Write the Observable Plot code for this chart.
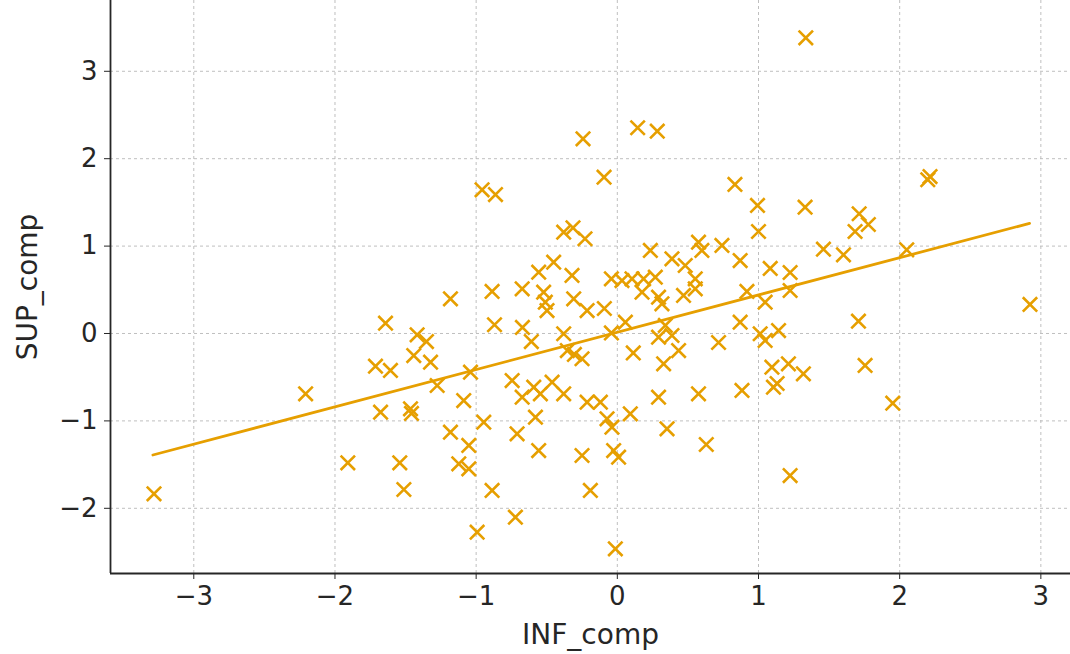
<!DOCTYPE html>
<html>
<head>
<meta charset="utf-8">
<script src="https://cdn.jsdelivr.net/npm/d3@7"></script>
<script src="https://cdn.jsdelivr.net/npm/@observablehq/plot@0.6"></script>
<style>
  html, body { margin: 0; padding: 0; background: #ffffff; }
  #chart { width: 1070px; height: 654px; overflow: hidden; }
</style>
</head>
<body>
<div id="chart"></div>
<script>
// Data
const infComp = [
  1.335, -0.243, 0.144, 0.283, -0.094, -0.958, -0.863, 0.833, 2.199, 2.215,
  0.993, 1.330, 1.713, 1.778, 1.684, 1.000, -0.380, -0.314, -0.229, 0.234,
  0.387, 0.481, 0.575, 0.599, 0.741, 0.870, 1.083, 1.224, 1.460, 1.602,
  2.050, -0.451, -0.557, -0.321, -0.042, 0.033, 0.104, 0.186, 0.269, 0.552,
  0.175, 0.292, 0.316, 0.469, 0.552, 0.918, 1.224, 1.047, 2.923, -1.182,
  -0.887, -0.674, -0.522, -0.510, -0.498, -0.309, -0.214, -0.092, -1.642, -0.870,
  -0.672, -0.609, -0.380, -0.354, -0.304, -0.250, -0.042, 0.057, 0.340, 0.292,
  0.387, 0.113, 0.328, 0.434, 0.717, 0.870, 1.012, 1.142, 1.047, 1.095,
  1.212, 1.318, 1.106, 1.132, 1.708, 1.755, 1.951, -1.418, -1.352, -1.442,
  -1.323, -1.713, -1.607, -2.208, -1.677, -1.465, -1.458, -1.276, -1.040, -1.088,
  -1.182, -0.946, -1.052, -1.123, -1.052, -0.745, -0.674, -0.592, -0.545, -0.462,
  -0.380, -0.580, -0.710, -0.557, -0.214, -0.120, -0.073, -0.038, 0.092, 0.292,
  0.575, 0.883, 0.352, 0.630, -0.250, -0.026, 0.009, -0.887, -0.191, -0.722,
  -0.993, -0.014, -1.909, -1.541, -1.512, -3.282, 1.224
];
const supComp = [
  3.383, 2.228, 2.354, 2.315, 1.788, 1.644, 1.590, 1.705, 1.759, 1.796,
  1.465, 1.445, 1.370, 1.247, 1.167, 1.167, 1.159, 1.209, 1.084, 0.950,
  0.855, 0.778, 1.045, 0.950, 1.007, 0.835, 0.744, 0.698, 0.965, 0.900,
  0.958, 0.816, 0.701, 0.664, 0.626, 0.606, 0.626, 0.626, 0.644, 0.626,
  0.473, 0.415, 0.340, 0.435, 0.511, 0.481, 0.492, 0.358, 0.332, 0.397,
  0.481, 0.511, 0.473, 0.358, 0.263, 0.397, 0.263, 0.286, 0.118, 0.100,
  0.069, -0.092, -0.003, -0.195, -0.240, -0.289, 0.006, 0.129, 0.092, -0.042,
  -0.023, -0.223, -0.347, -0.195, -0.103, 0.129, -0.003, 0.034, -0.080, -0.386,
  -0.347, -0.461, -0.614, -0.572, 0.141, -0.366, -0.797, -0.015, -0.092, -0.252,
  -0.328, -0.374, -0.423, -0.690, -0.900, -0.862, -0.915, -0.595, -0.443, -0.767,
  -1.129, -1.015, -1.281, -1.491, -1.548, -0.538, -0.729, -0.614, -0.690, -0.557,
  -0.690, -0.958, -1.148, -1.339, -0.786, -0.786, -0.976, -1.072, -0.919, -0.729,
  -0.690, -0.652, -1.090, -1.270, -1.396, -1.339, -1.415, -1.796, -1.796, -2.102,
  -2.273, -2.463, -1.479, -1.479, -1.785, -1.834, -1.625
];
// Fitted regression line end points
const fitX = [-3.29, 2.92];
const fitY = [-1.39, 1.26];

const xTicks = [-3, -2, -1, 0, 1, 2, 3];
const yTicks = [-2, -1, 0, 1, 2, 3];
const xLabel = "INF_comp";
const yLabel = "SUP_comp";

const orange = "#E69F00";
const ink = "#262626";
const xDomain = [-3.59, 3.21];
const yDomain = [-2.746, 3.81];

const points = infComp.map((x, i) => ({x, y: supComp[i]}));
const fit = fitX.map((x, i) => ({x, y: fitY[i]}));
const fmt = d => d < 0 ? "\u2212" + Math.abs(d) : String(d);

const chart = Plot.plot({
  width: 1070,
  height: 654,
  marginLeft: 110,
  marginRight: 0,
  marginTop: 0,
  marginBottom: 81,
  style: {fontFamily: "DejaVu Sans", fontSize: "26px", color: ink, background: "#ffffff"},
  x: {domain: xDomain},
  y: {domain: yDomain},
  marks: [
    Plot.ruleX(xTicks, {x: d => d, stroke: "#b8b8b8", strokeWidth: 0.9, strokeDasharray: "3,3"}),
    Plot.ruleY(yTicks, {y: d => d, stroke: "#b8b8b8", strokeWidth: 0.9, strokeDasharray: "3,3"}),
    Plot.line(fit, {x: "x", y: "y", stroke: orange, strokeWidth: 2.8}),
    Plot.dot(points, {x: "x", y: "y", symbol: "times", r: 6.6, stroke: orange, strokeWidth: 2.6}),
    Plot.axisX({ticks: xTicks, tickFormat: fmt, tickSize: 6, tickPadding: 7, label: null, stroke: ink, fill: ink, fontSize: 26}),
    Plot.axisY({ticks: yTicks, tickFormat: fmt, tickSize: 6, tickPadding: 7, label: null, stroke: ink, fill: ink, fontSize: 26}),
    Plot.ruleX([xDomain[0]], {x: d => d, stroke: ink, strokeWidth: 1.8}),
    Plot.ruleY([yDomain[0]], {y: d => d, stroke: ink, strokeWidth: 1.8}),
    Plot.text([xLabel], {text: d => d, frameAnchor: "bottom", dy: 62, lineAnchor: "middle", textAnchor: "middle", fontSize: 28, fill: ink}),
    Plot.text([yLabel], {text: d => d, frameAnchor: "left", dx: -82, rotate: -90, textAnchor: "middle", lineAnchor: "middle", fontSize: 28, fill: ink})
  ]
});
document.getElementById("chart").appendChild(chart);
</script>
</body>
</html>
